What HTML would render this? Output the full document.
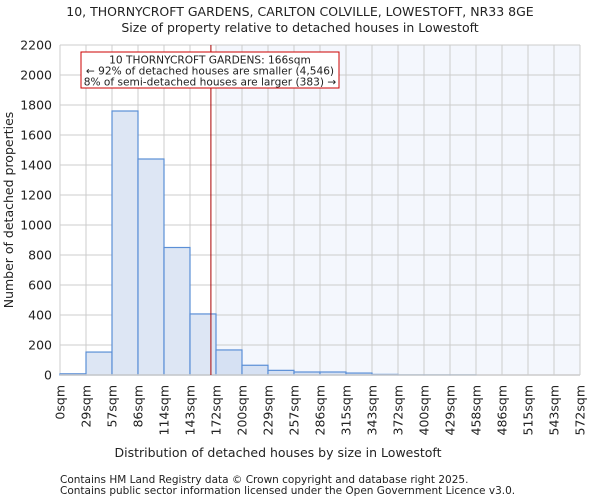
<!DOCTYPE html>
<html><head><meta charset="utf-8"><style>
body{margin:0;background:#fff;font-family:"DejaVu Sans","Liberation Sans",sans-serif}
svg text{font-family:"DejaVu Sans","Liberation Sans",sans-serif;fill:#222}
</style></head><body>
<svg id="c" width="600" height="500" xmlns="http://www.w3.org/2000/svg">
<text x="300" y="16" text-anchor="middle" font-size="12.5">10, THORNYCROFT GARDENS, CARLTON COLVILLE, LOWESTOFT, NR33 8GE</text>
<text x="300" y="32" text-anchor="middle" font-size="12.5">Size of property relative to detached houses in Lowestoft</text>
<g id="plot"></g>
<text x="278" y="457" text-anchor="middle" font-size="12.5">Distribution of detached houses by size in Lowestoft</text>
<text transform="translate(13,210) rotate(-90)" text-anchor="middle" font-size="12.5">Number of detached properties</text>
<text x="60" y="483" font-size="10.5">Contains HM Land Registry data © Crown copyright and database right 2025.</text>
<text x="60" y="494" font-size="10.5">Contains public sector information licensed under the Open Government Licence v3.0.</text>
</svg>
<script>
const binLabels=["0sqm","29sqm","57sqm","86sqm","114sqm","143sqm","172sqm","200sqm","229sqm","257sqm","286sqm","315sqm","343sqm","372sqm","400sqm","429sqm","458sqm","486sqm","515sqm","543sqm","572sqm"];
const counts=[8,153,1760,1440,850,407,167,65,31,20,20,13,4,1,1,1,0,0,0,0];
const yTicks=[0,200,400,600,800,1000,1200,1400,1600,1800,2000,2200];
const subjectSize=166;
const maxSize=572;
const X0=60,X1=580,Y0=375,Y1=45,YMAX=2200;
const NS="http://www.w3.org/2000/svg";
const g=document.getElementById('plot');
const bw=(X1-X0)/counts.length;
const xs=v=>X0+v/maxSize*(X1-X0);
const ys=v=>Y0-v/YMAX*(Y0-Y1);
function mk(t,a){const e=document.createElementNS(NS,t);for(const k in a)e.setAttribute(k,a[k]);g.appendChild(e);return e;}
const subBin=Math.ceil(subjectSize/maxSize*counts.length);
let e=mk('rect',{x:X0+subBin*bw,y:Y1,width:X1-X0-subBin*bw,height:Y0-Y1,fill:'#f4f7fd'});


yTicks.forEach(t=>{let l=mk('line',{x1:X0,x2:X1,y1:ys(t),y2:ys(t),stroke:'#ccc','stroke-width':1});


let tx=mk('text',{x:X0-8,y:ys(t)+4.5,'text-anchor':'end','font-size':12.5});tx.textContent=t;

});
binLabels.forEach((b,i)=>{const x=X0+i*bw;let l=mk('line',{x1:x,x2:x,y1:Y1,y2:Y0,stroke:'#ccc','stroke-width':1});


let tx=mk('text',{transform:`translate(${x+4.5},${Y0+10}) rotate(-90)`,'text-anchor':'end','font-size':12.5});tx.textContent=b;

});
counts.forEach((c,i)=>{if(c<=0)return;let r=mk('rect',{x:X0+i*bw,y:ys(c),width:bw,height:Y0-ys(c),fill:i<subBin?'#dde6f4':'#d6e1f3',stroke:'#5b8fd6','stroke-width':1.2});

});
e=mk('line',{x1:X0,x2:X1,y1:Y0,y2:Y0,stroke:'#ccc','stroke-width':1.5});


e=mk('line',{x1:xs(subjectSize),x2:xs(subjectSize),y1:Y1,y2:Y0,stroke:'#a00','stroke-width':1});


e=mk('rect',{x:81,y:52,width:258,height:36,fill:'#fff',stroke:'#c00','stroke-width':1});


["10 THORNYCROFT GARDENS: 166sqm","← 92% of detached houses are smaller (4,546)","8% of semi-detached houses are larger (383) →"].forEach((s,i)=>{let t=mk('text',{x:210,y:63.5+i*11,'text-anchor':'middle','font-size':10.6});t.textContent=s;

});
</script>
</body></html>
